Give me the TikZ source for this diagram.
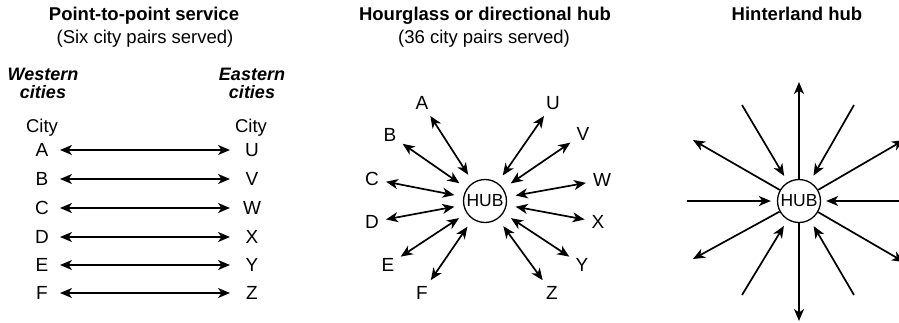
\documentclass[tikz,border=0pt]{standalone}
\usepackage{fontspec}
\setmainfont{Liberation Sans}
\usetikzlibrary{arrows.meta}
\begin{document}
\begin{tikzpicture}[x=1pt,y=-1pt,
  txt/.style={font=\fontsize{19pt}{19pt}\selectfont, inner sep=2pt},
  ttl/.style={font=\fontsize{18.5pt}{19pt}\selectfont\bfseries, anchor=base, inner sep=0pt},
  sub/.style={font=\fontsize{18.5pt}{19pt}\selectfont, anchor=base, inner sep=0pt},
  side/.style={font=\fontsize{18pt}{18.3pt}\selectfont\bfseries\itshape, anchor=base, inner sep=0pt},
  lbl/.style={txt},
  hub/.style={draw, circle, line width=1.3pt, minimum size=43pt, inner sep=0pt, font=\fontsize{17.5pt}{18pt}\selectfont},
  tip/.tip={Stealth[length=12pt,width=10pt,inset=3.5pt]},
  con/.style={line width=1.7pt},
  dbl/.style={con, tip-tip},
  oneway/.style={con, -tip},
]
\clip (0,0) rectangle (899,322);

% ---------- Panel 1: point-to-point ----------
\node[ttl] (t1) at (144,20) {Point-to-point service};
\node[sub] (s1) at (145,43) {(Six city pairs served)};
\node[side] (wc1) at (43,80) {Western};
\node[side] (wc2) at (43,98) {cities};
\node[side] (ec1) at (252,80) {Eastern};
\node[side] (ec2) at (252,98) {cities};
\node[sub] (cl) at (42,132.5) {City};
\node[sub] (cr) at (251,132.5) {City};
\foreach \l/\r/\y in {A/U/150, B/V/179, C/W/208, D/X/237, E/Y/265, F/Z/293}{
  \node[lbl] (L\l) at (42,\y) {\l};
  \node[lbl] (R\r) at (252,\y) {\r};
  \draw[dbl] ([xshift=18pt]L\l.center) -- ([xshift=-22pt]R\r.center);
}

% ---------- Panel 2: hourglass hub ----------
\node[ttl] (t2) at (485,20) {Hourglass or directional hub};
\node[sub] (s2) at (484,43) {(36 city pairs served)};
\node[hub] (H2) at (485,201) {HUB};
\foreach \n/\x/\y in {A/422/103, B/390/135, C/372/179, D/372/222, E/388/265, F/422/293,
                      U/553/103, V/583/134, W/602/180, X/598/222, Y/582/265, Z/552/293}{
  \node[lbl] (P\n) at (\x,\y) {\n};
  \draw[dbl, shorten <=5pt, shorten >=9pt] (P\n) -- (H2);
}

% ---------- Panel 3: hinterland hub ----------
\node[ttl] (t3) at (797,20) {Hinterland hub};
\node[hub] (H3) at (799,201) {HUB};
\coordinate (oN) at (799,82);
\coordinate (oS) at (799,321);
\coordinate (oNW) at (693,140);
\coordinate (oSW) at (693,259);
\coordinate (oNE) at (904,140);
\coordinate (oSE) at (904,262);
\foreach \c in {oN,oS,oNW,oSW,oNE,oSE}{
  \draw[oneway] (H3) -- (\c);
}
\coordinate (iW) at (687,201);
\coordinate (iE) at (910,201);
\coordinate (iNW) at (742,105);
\coordinate (iNE) at (854,105);
\coordinate (iSW) at (742,295);
\coordinate (iSE) at (854,295);
\draw[oneway, shorten >=6pt] (iW) -- (H3);
\draw[oneway, shorten >=5pt] (iE) -- (H3);
\foreach \c in {iNW,iNE,iSW,iSE}{
  \draw[oneway, shorten >=7pt] (\c) -- (H3);
}
\end{tikzpicture}
\end{document}
